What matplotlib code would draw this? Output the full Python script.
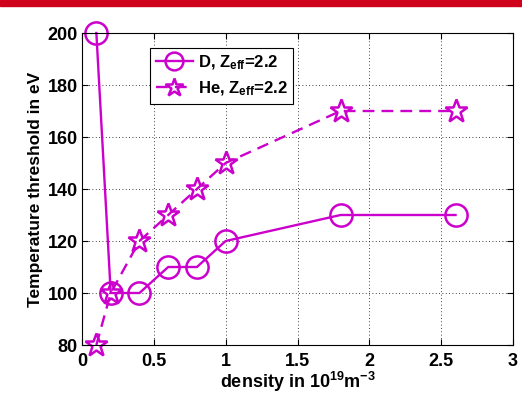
import matplotlib
matplotlib.use("Agg")
import matplotlib.pyplot as plt
from matplotlib.patches import Rectangle

density_d = [0.1, 0.2, 0.4, 0.6, 0.8, 1.0, 1.8, 2.6]
temp_d = [200, 100, 100, 110, 110, 120, 130, 130]
density_he = [0.1, 0.2, 0.4, 0.6, 0.8, 1.0, 1.8, 2.6]
temp_he = [80, 100, 120, 130, 140, 150, 170, 170]

x_ticks = [0, 0.5, 1, 1.5, 2, 2.5, 3]
x_tick_labels = ["0", "0.5", "1", "1.5", "2", "2.5", "3"]
y_ticks = [80, 100, 120, 140, 160, 180, 200]

MAGENTA = "#cc00cc"

plt.rcParams.update({
    "font.family": ["Liberation Sans", "DejaVu Sans"],
    "font.weight": "bold",
    "font.size": 12,
    "mathtext.fontset": "custom",
    "mathtext.rm": "Liberation Sans:bold",
    "mathtext.it": "Liberation Sans:bold",
    "mathtext.bf": "Liberation Sans:bold",
    "xtick.direction": "in",
    "ytick.direction": "in",
})

fig = plt.figure(figsize=(5.22, 3.97), dpi=100)
fig.patches.append(Rectangle((0, 1 - 6 / 397), 1, 6 / 397, transform=fig.transFigure,
                             color="#d0021b", zorder=0))
ax = fig.add_axes([82 / 522, 52 / 397, 431 / 522, 312 / 397])

ax.plot(density_d, temp_d, "-", color=MAGENTA, lw=1.7, marker="o", ms=16,
        mfc="none", mec=MAGENTA, mew=1.8, label=r"D, Z$_{\mathrm{eff}}$=2.2", clip_on=False)
ax.plot(density_he, temp_he, color=MAGENTA, lw=1.7, linestyle=(0, (5, 3)),
        marker="*", ms=17, mfc="none", mec=MAGENTA, mew=1.8,
        label=r"He, Z$_{\mathrm{eff}}$=2.2", clip_on=False)

ax.set_xlim(0, 3)
ax.set_ylim(80, 200)
ax.set_xticks(x_ticks)
ax.set_xticklabels(x_tick_labels)
ax.set_yticks(y_ticks)
ax.grid(True, color="black", linestyle=(0, (1, 3)), linewidth=0.6)
ax.tick_params(length=4, width=0.8, top=True, right=True, labelsize=13)
ax.tick_params(axis="x", pad=6)
ax.tick_params(axis="y", pad=3)
for s in ax.spines.values():
    s.set_linewidth(0.8)

ax.set_xlabel(r"density in 10$^{19}$m$^{-3}$", fontsize=13, fontweight="bold", labelpad=0)
ax.set_ylabel("Temperature threshold in eV", fontsize=12.5, fontweight="bold", labelpad=3)

leg = ax.legend(loc="upper left", bbox_to_anchor=(0.139, 0.98), fancybox=False,
                edgecolor="black", framealpha=1, handlelength=2.2, handletextpad=0.3,
                borderpad=0.35, labelspacing=0.45, fontsize=12, markerscale=0.8)
leg.get_frame().set_linewidth(0.8)

fig.savefig("out.png", dpi=100)
